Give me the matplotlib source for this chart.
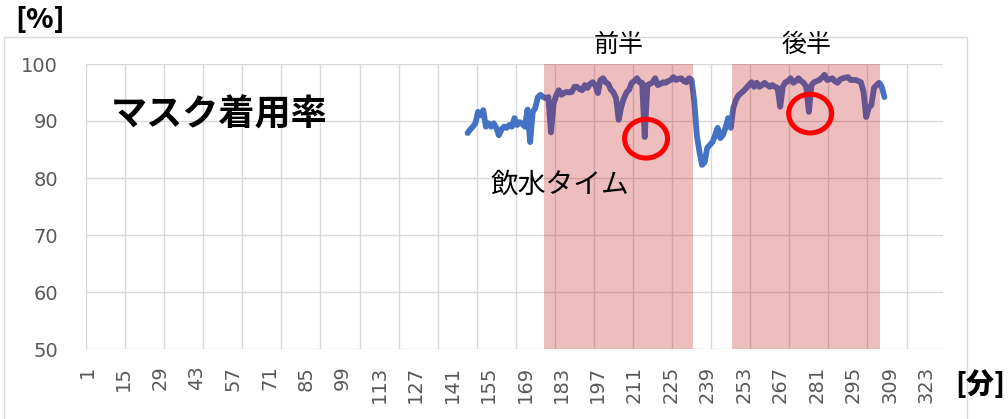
import matplotlib
matplotlib.use("Agg")
import matplotlib.pyplot as plt
import matplotlib.transforms as mtrans
from matplotlib.patches import Ellipse, Rectangle

plt.rcParams['font.family'] = ['Noto Sans CJK JP', 'DejaVu Sans']

# ---- data ----
n_minutes = 329
start_minute = 147
mask_rate = [
    87.9, 88.5, 89.0, 89.6, 91.6, 91.0, 91.9, 89.0, 89.6, 89.0,   # 147-156
    89.6, 88.8, 87.5, 88.5, 89.0, 88.8, 89.3, 89.0, 90.5, 89.3,   # 157-166
    89.8, 89.5, 89.0, 92.0, 86.3, 91.6, 92.3, 94.2, 94.6, 94.2,   # 167-176
    94.0, 94.2, 88.0, 93.0, 94.5, 95.4, 94.6, 94.9, 95.1, 95.0,   # 177-186
    95.1, 96.0, 96.0, 95.6, 95.4, 96.3, 95.8, 96.5, 96.8, 96.3,   # 187-196
    94.9, 97.2, 97.5, 96.8, 96.5, 95.5, 95.0, 94.0, 90.2, 92.5,   # 197-206
    94.0, 95.0, 95.5, 96.7, 97.0, 97.5, 96.8, 96.7, 87.2, 96.3,   # 207-216
    96.5, 96.8, 97.5, 96.3, 96.5, 96.8, 96.7, 97.0, 97.2, 97.7,   # 217-226
    97.2, 97.4, 97.5, 97.0, 96.8, 97.5, 97.2, 93.5, 87.5, 84.6,   # 227-236
    82.3, 82.8, 85.3, 85.8, 86.3, 87.5, 88.8, 87.0, 87.5, 88.8,   # 237-246
    90.5, 88.8, 92.3, 93.7, 94.5, 94.9, 95.3, 95.8, 96.3, 96.8,   # 247-256
    96.0, 96.7, 96.0, 96.3, 96.7, 96.3, 96.0, 96.3, 96.0, 95.8,   # 257-266
    92.5, 96.0, 96.8, 97.0, 97.5, 96.7, 97.0, 97.5, 97.0, 96.7,   # 267-276
    96.0, 91.6, 96.3, 96.8, 97.0, 97.2, 97.6, 98.1, 97.2, 97.3,   # 277-286
    97.5, 97.0, 96.7, 97.3, 97.5, 97.6, 97.7, 97.2, 97.2, 97.2,   # 287-296
    97.0, 96.8, 95.1, 90.7, 92.3, 92.8, 95.8, 96.3, 96.7, 96.0,   # 297-306
    94.2,                                                         # 307
]
minutes = list(range(start_minute, start_minute + len(mask_rate)))

periods = [(177, 233), (249, 305)]
period_labels = ["前半", "後半"]
highlight_minutes = [215, 278]

tick_labels = list(range(1, n_minutes + 1, 14))
y_ticks = [50, 60, 70, 80, 90, 100]

# ---- figure ----
W, H = 1008, 419
fig = plt.figure(figsize=(W / 100, H / 100), dpi=100)
fig.patch.set_facecolor("white")

# outer chart frame
fig.patches.append(Rectangle((4 / W, -0.1), (967 - 4) / W, 1.1 - 37 / H,
                             transform=fig.transFigure, fill=False,
                             edgecolor="#D9D9D9", lw=1.0, zorder=0))

ax = fig.add_axes([86 / W, 1 - 349 / H, (943 - 86) / W, (349 - 64) / H])
ax.set_xlim(0.5, n_minutes + 0.5)
ax.set_ylim(50, 100)

grid_c = "#D9D9D9"
for yv in y_ticks:
    ax.axhline(yv, color=grid_c, lw=1.0, zorder=1)
for b in range(0, n_minutes + 1, 15):
    ax.axvline(b + 0.5, color=grid_c, lw=1.0, zorder=1)

ax.plot(minutes, mask_rate, color="#4472C4", lw=4.2,
        solid_joinstyle="round", solid_capstyle="round", zorder=3)

for (s, e) in periods:
    ax.axvspan(s - 0.5, e + 0.5, ymin=0, ymax=1, color="#C00000",
               alpha=0.26, lw=0, zorder=4)

for m in highlight_minutes:
    yv = mask_rate[minutes.index(m)]
    ax.add_patch(Ellipse((m + 0.5, yv - 0.3), 16.5, 6.8, fill=False,
                         edgecolor="#FF0000", lw=3.6, zorder=6))

for sp in ax.spines.values():
    sp.set_visible(False)

ax.set_yticks(y_ticks)
ax.set_yticklabels([str(v) for v in y_ticks], family="DejaVu Sans")
ax.set_xticks(tick_labels)
ax.set_xticklabels([str(v) for v in tick_labels], rotation=90, va="top",
                   family="DejaVu Sans")
ax.tick_params(axis="both", length=0, labelsize=14, colors="#595959")
ax.tick_params(axis="y", pad=20)
ax.tick_params(axis="x", pad=12)

# texts
ax.text(0.155, 0.82, "マスク着用率", transform=ax.transAxes, fontsize=26,
        fontweight="bold", ha="center", va="center", color="black", zorder=7)
for (s, e), lab in zip(periods, period_labels):
    ax.text((s + e) / 2, 101.0, lab, fontsize=18, ha="center", va="bottom",
            color="black", clip_on=False)
ax.text(560, 1 - 185 / H, "飲水タイム",
        transform=mtrans.blended_transform_factory(mtrans.IdentityTransform(),
                                                   fig.transFigure),
        fontsize=20, ha="center", va="center", color="black", zorder=7)
fig.text(40 / W, 1 - 20 / H, "[%]", fontsize=20, fontweight="black",
         ha="center", va="center", color="black")
fig.text(980 / W, 1 - 385 / H, "[分]", fontsize=20, fontweight="black",
         ha="center", va="center", color="black")

fig.savefig("out.png", dpi=100, facecolor="white")
